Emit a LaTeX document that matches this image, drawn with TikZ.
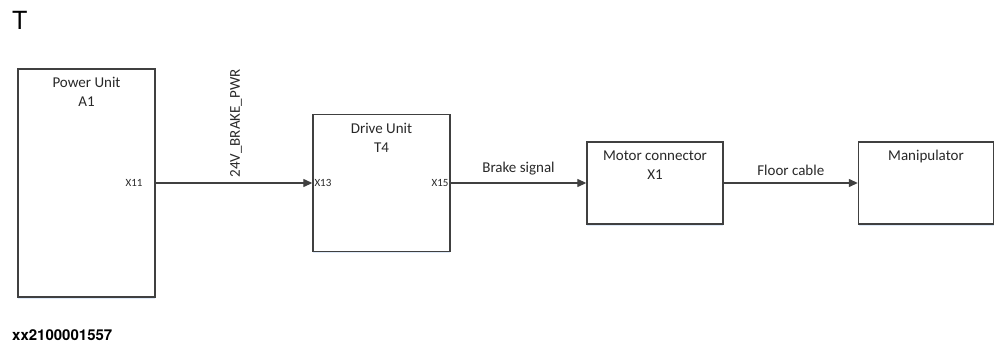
\documentclass[tikz,border=0pt]{standalone}
\usepackage{fontspec}
\setmainfont{Carlito}
\newfontfamily\headfont{TeX Gyre Heros}
\usetikzlibrary{positioning,arrows.meta,shadows}
\definecolor{edge}{RGB}{64,64,64}
\definecolor{ink}{RGB}{40,40,40}
\definecolor{glow}{RGB}{200,220,245}

\begin{document}
\begin{tikzpicture}[x=1pt, y=-1pt, >={Triangle[length=9pt,width=8pt]},
    unit/.style={draw=edge, line width=1.4pt, fill=white, inner sep=0pt,
      drop shadow={fill=glow, opacity=0.6, shadow xshift=0pt, shadow yshift=-1.5pt}},
    title/.style={align=center, text=ink, inner sep=0pt, below=9pt,
      font=\fontsize{15}{19}\selectfont},
    port/.style={text=ink, inner sep=0pt, font=\fontsize{11}{13}\selectfont},
    wire/.style={->, draw=edge, line width=1.3pt},
    tag/.style={text=ink, inner sep=0pt, font=\fontsize{15}{18}\selectfont}]
        \useasboundingbox (0,0) rectangle (995,342);
        % blocks
        \node[unit, minimum width=137pt, minimum height=228pt] (pu) at (86.5,183) {};
        \node[unit, minimum width=137pt, minimum height=137pt] (du) at (381.5,183) {};
        \node[unit, minimum width=136pt, minimum height=82pt] (mc) at (655,183) {};
        \node[unit, minimum width=135pt, minimum height=82pt] (ma) at (926,183) {};
        \node[title] (puT) at (pu.north) {Power Unit\\A1};
        \node[title] (duT) at (du.north) {Drive Unit\\T4};
        \node[title] (mcT) at (mc.north) {Motor connector\\X1};
        \node[title] (maT) at (ma.north) {Manipulator};
        % ports
        \node[port, left=13pt of pu.east] (x11) {X11};
        \node[port, right=2pt of du.west] (x13) {X13};
        \node[port, left=2pt of du.east] (x15) {X15};
        % wires
        \draw[wire] (pu.east) -- (du.west)
          node[tag, midway, rotate=90, anchor=west, xshift=5pt, yshift=-2pt] (pwr) {24V\_BRAKE\_PWR};
        \draw[wire] (du.east) -- (mc.west)
          node[tag, midway, above=7pt] (brk) {Brake signal};
        \draw[wire] (mc.east) -- (ma.west)
          node[tag, midway, above=7pt] (flr) {Floor cable};
        % page marks
        \node[anchor=north west, inner sep=0pt, font=\headfont\fontsize{25}{25}\selectfont] (hd) at (12,11) {T};
        \node[anchor=south west, inner sep=0pt, font=\headfont\bfseries\fontsize{15}{15}\selectfont] (id) at (12,341) {xx2100001557};
\end{tikzpicture}
\end{document}
